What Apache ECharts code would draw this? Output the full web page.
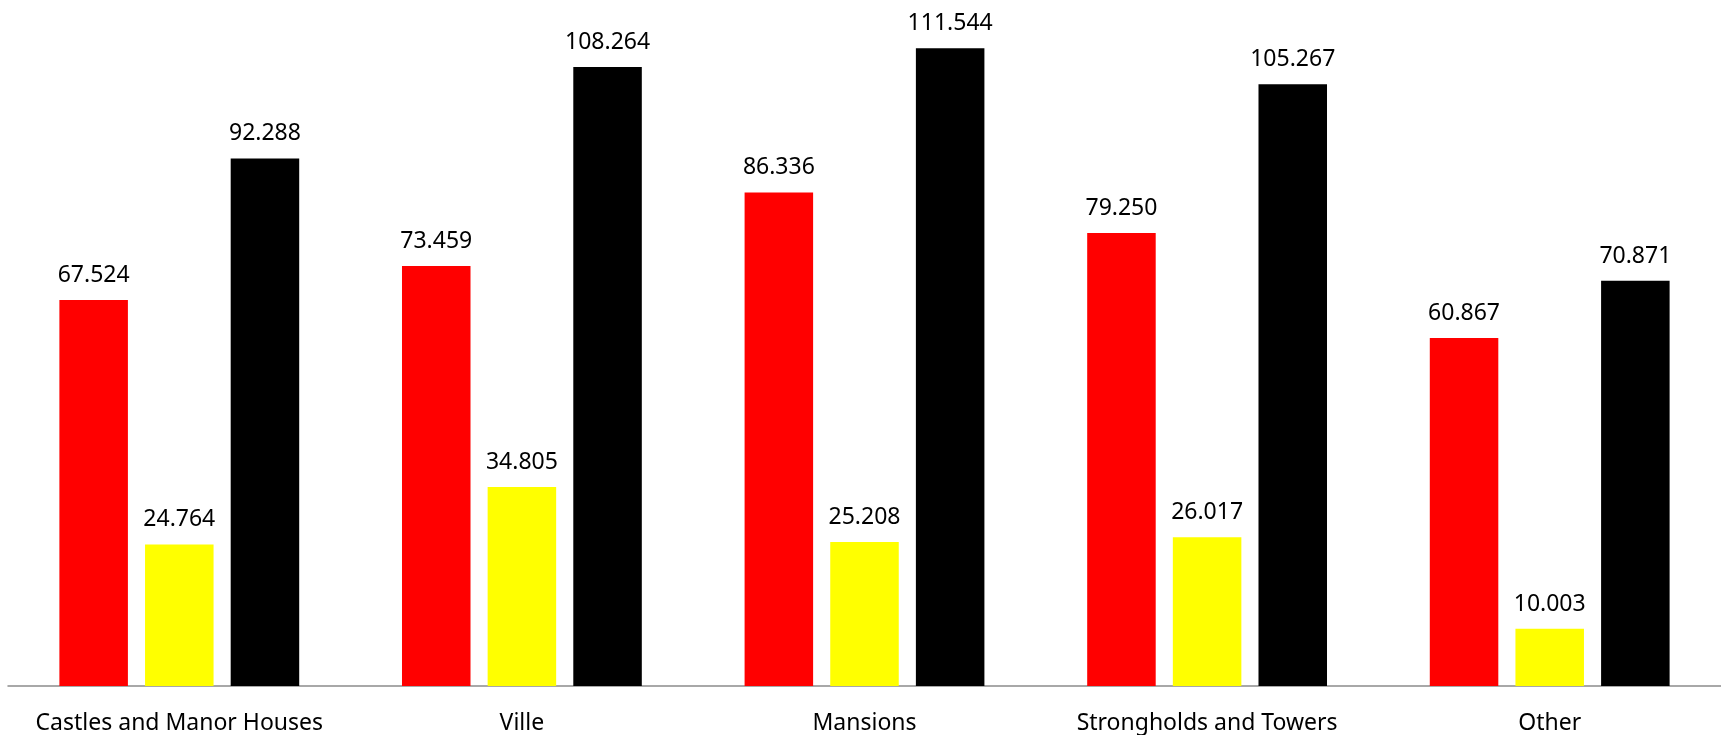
<!DOCTYPE html>
<html>
<head>
<meta charset="utf-8">
<script src="https://cdn.jsdelivr.net/npm/echarts@6/dist/echarts.min.js"></script>
<style>
html,body{margin:0;padding:0;background:#fff;}
#chart{width:1721px;height:735px;}
</style>
</head>
<body>
<div id="chart"></div>
<script>
const categories = ["Castles and Manor Houses", "Ville", "Mansions", "Strongholds and Towers", "Other"];
const seriesRed = [67.524, 73.459, 86.336, 79.250, 60.867];
const seriesYellow = [24.764, 34.805, 25.208, 26.017, 10.003];
const seriesBlack = [92.288, 108.264, 111.544, 105.267, 70.871];

const FONT = "Noto Sans";
const labelCfg = {
  show: true,
  position: 'top',
  distance: 13,
  color: '#000',
  fontFamily: FONT,
  fontSize: 23,
  formatter: p => p.value.toFixed(3)
};

const chart = echarts.init(document.getElementById('chart'), null, {renderer: 'canvas'});
chart.setOption({
  animation: false,
  backgroundColor: '#fff',
  grid: {left: 8, right: 0, top: 0, bottom: 47, containLabel: false},
  xAxis: {
    type: 'category',
    data: categories,
    axisLine: {show: true, lineStyle: {color: '#8c8c8c', width: 1.5}},
    axisTick: {show: false},
    axisLabel: {color: '#000', fontFamily: FONT, fontSize: 23, margin: 26, interval: 0}
  },
  yAxis: {
    type: 'value',
    min: 0,
    max: 120,
    show: false,
    splitLine: {show: false}
  },
  series: [
    {type: 'bar', name: 'A', data: seriesRed, itemStyle: {color: '#ff0000'}, barGap: '25%', barCategoryGap: '30%', label: labelCfg},
    {type: 'bar', name: 'B', data: seriesYellow, itemStyle: {color: '#ffff00'}, barGap: '25%', barCategoryGap: '30%', label: labelCfg},
    {type: 'bar', name: 'C', data: seriesBlack, itemStyle: {color: '#000000'}, barGap: '25%', barCategoryGap: '30%', label: labelCfg}
  ]
});
</script>
</body>
</html>
